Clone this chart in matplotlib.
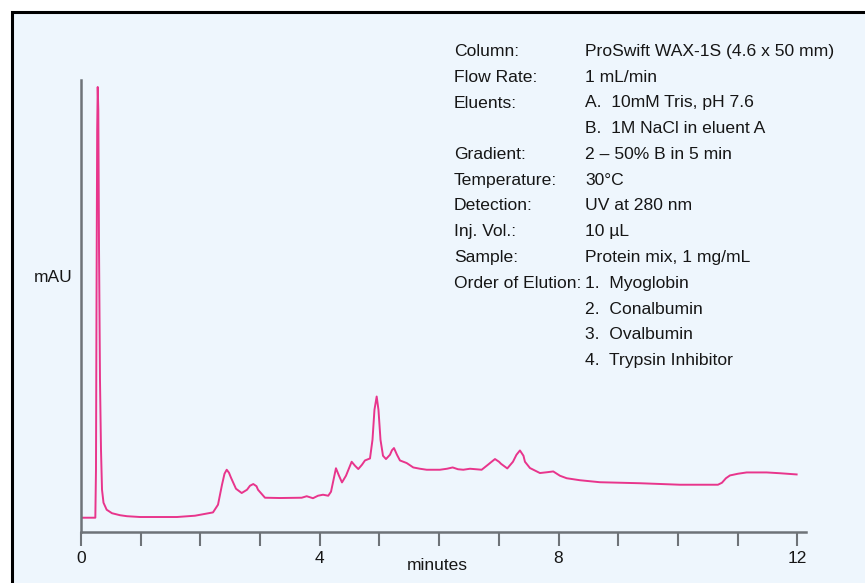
import matplotlib.pyplot as plt
from matplotlib.patches import Rectangle

# chromatogram trace (minutes, signal)
time_min = [0.000, 0.240, 0.251, 0.260, 0.271, 0.280, 0.290, 0.302, 0.318, 0.335,
            0.352, 0.377, 0.430, 0.519, 0.653, 0.771, 0.988, 1.608, 1.910, 2.211,
            2.295, 2.362, 2.404, 2.441, 2.479, 2.513, 2.596, 2.692, 2.781, 2.831,
            2.886, 2.940, 2.965, 3.082,
            3.333, 3.697, 3.781, 3.886, 3.970, 4.054, 4.142, 4.188, 4.271, 4.322,
            4.372, 4.439, 4.534, 4.590, 4.645, 4.707, 4.757, 4.841, 4.883, 4.916,
            4.953, 4.983, 5.017, 5.059, 5.109, 5.176, 5.209, 5.243, 5.293, 5.343, 5.456,
            5.566, 5.678, 5.791, 6.013, 6.131, 6.226, 6.315, 6.404, 6.516, 6.616,
            6.712, 6.817, 6.868, 6.935, 7.002, 7.035, 7.141, 7.236, 7.295, 7.353, 7.412,
            7.437, 7.521, 7.688,
            7.806, 7.911, 8.023, 8.136, 8.358, 8.693, 9.363, 10.034, 10.670, 10.737,
            10.804, 10.871, 11.005, 11.151, 11.486, 11.709, 11.988]
signal = [14, 14, 62, 232, 402, 445, 422, 282, 152, 82,
          42, 29, 22, 18.5, 16.5, 15.5, 14.7, 14.7, 16, 19.3,
          27, 47, 58, 62, 59, 54, 43, 38.7, 42, 46,
          47.7, 45.5, 42, 34,
          33.7, 34, 35.5, 33.5, 36, 37, 36, 40, 63.5, 56,
          49.3, 56, 70, 66, 62.7, 67, 71.3, 73.3, 92, 122,
          135.3, 122, 92, 76, 72.7, 77, 81.5, 83.7, 77, 71.3, 68.7,
          64.3, 63, 62, 62, 63, 64.3, 62.5, 62, 63, 62.5,
          62, 67, 69.5, 72.7, 70, 68, 63.3, 70, 77, 81.3, 76,
          70, 63.7, 58.7,
          59.5, 60.3, 56, 53.5, 51.5, 49.5, 48.5, 47, 47, 49,
          53.5, 56.3, 58, 59.3, 59.3, 58.5, 57.3]

xticks = list(range(0, 13))
xtick_labels = ["0", "", "", "", "4", "", "", "", "8", "", "", "", "12"]

info_keys = ["Column:", "Flow Rate:", "Eluents:", "", "Gradient:", "Temperature:",
             "Detection:", "Inj. Vol.:", "Sample:", "Order of Elution:", "", "", ""]
info_vals = ["ProSwift WAX-1S (4.6 x 50 mm)", "1 mL/min", "A.  10mM Tris, pH 7.6",
             "B.  1M NaCl in eluent A", "2 \u2013 50% B in 5 min", "30\u00b0C",
             "UV at 280 nm", "10 \u00b5L", "Protein mix, 1 mg/mL", "1.  Myoglobin",
             "2.  Conalbumin", "3.  Ovalbumin", "4.  Trypsin Inhibitor"]

W, H = 865, 583
bg = "#eef6fd"
pink = "#e8358c"
gray = "#6e7378"
ink = "#161616"

plt.rcParams["font.family"] = ["Liberation Sans", "DejaVu Sans"]

fig = plt.figure(figsize=(W / 100, H / 100), dpi=100, facecolor="white")

def fx(px):
  return px / W

def fy(py):
  return 1 - py / H

# light panel with black frame running off the right/bottom edges
fig.patches.append(Rectangle((fx(11.5), -0.05), 1.2, fy(11.5) + 0.05, transform=fig.transFigure,
                             facecolor=bg, edgecolor="black", linewidth=2.2, zorder=-1))

ax = fig.add_axes([fx(81), fy(531.7), fx(805.7) - fx(81), (531.7 - 80) / H])
ax.set_zorder(1)
ax.set_facecolor("none")
ax.plot(time_min, signal, color=pink, linewidth=1.4, solid_joinstyle="round")

ax.set_xlim(0, 12.14)
ax.set_ylim(0, 452)
ax.set_xticks(xticks)
ax.set_xticklabels(xtick_labels)
ax.set_yticks([])
ax.tick_params(axis="x", direction="out", length=10, width=1.5, color=gray,
               labelsize=12.5, labelcolor=ink, pad=4)
for s in ["top", "right"]:
  ax.spines[s].set_visible(False)
for s in ["left", "bottom"]:
  ax.spines[s].set_color(gray)
  ax.spines[s].set_linewidth(1.8)

fig.text(fx(53), fy(277), "mAU", ha="center", va="center", fontsize=12.5, color=ink)
fig.text(fx(437), fy(566), "minutes", ha="center", va="center", fontsize=12.5, color=ink)

for i, (k, v) in enumerate(zip(info_keys, info_vals)):
  y = 51.5 + 25.75 * i
  fig.text(fx(454), fy(y), k, ha="left", va="center", fontsize=12.6, color=ink)
  fig.text(fx(585), fy(y), v, ha="left", va="center", fontsize=12.6, color=ink)

fig.savefig("out.png", dpi=100, facecolor="white")
